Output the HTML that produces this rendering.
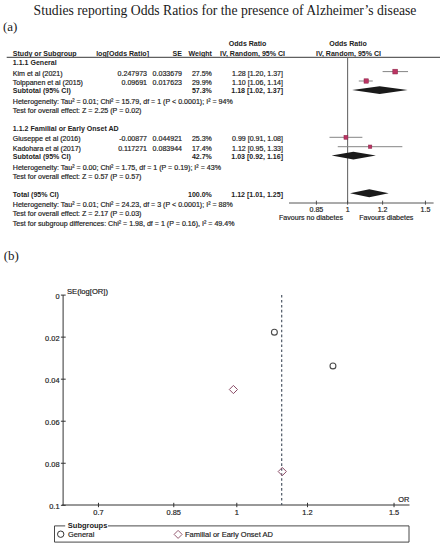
<!DOCTYPE html>
<html><head><meta charset="utf-8"><style>
html,body{margin:0;padding:0;background:#fff;}
body{width:448px;height:550px;overflow:hidden;font-family:"Liberation Sans",sans-serif;}
svg{display:block;}
</style></head><body>
<svg width="448" height="550" viewBox="0 0 448 550">
<rect width="448" height="550" fill="#fff"/>
<text x="33.6" y="14.75" font-family="'Liberation Serif', serif" font-size="13.68" fill="#1a1a1a">Studies reporting Odds Ratios for the presence of Alzheimer&#8217;s disease</text>
<text x="3" y="31.3" font-family="'Liberation Serif', serif" font-size="13" fill="#1a1a1a">(a)</text>
<text x="3.7" y="260.1" font-family="'Liberation Serif', serif" font-size="13" fill="#1a1a1a">(b)</text>
<text x="12.8" y="55.5" font-family="'Liberation Sans', sans-serif" font-size="7.05" font-weight="bold" fill="#222">Study or Subgroup</text>
<text x="149.0" y="55.5" font-family="'Liberation Sans', sans-serif" font-size="7.05" font-weight="bold" text-anchor="end" fill="#222">log[Odds Ratio]</text>
<text x="182" y="55.5" font-family="'Liberation Sans', sans-serif" font-size="7.05" font-weight="bold" text-anchor="end" fill="#222">SE</text>
<text x="211.9" y="55.5" font-family="'Liberation Sans', sans-serif" font-size="7.05" font-weight="bold" text-anchor="end" fill="#222">Weight</text>
<text x="247.6" y="46" font-family="'Liberation Sans', sans-serif" font-size="7.05" font-weight="bold" text-anchor="middle" fill="#222">Odds Ratio</text>
<text x="252.5" y="55.5" font-family="'Liberation Sans', sans-serif" font-size="7.05" font-weight="bold" text-anchor="middle" fill="#222">IV, Random, 95% CI</text>
<text x="348.0" y="46" font-family="'Liberation Sans', sans-serif" font-size="7.05" font-weight="bold" text-anchor="middle" fill="#222">Odds Ratio</text>
<text x="348.5" y="55.5" font-family="'Liberation Sans', sans-serif" font-size="7.05" font-weight="bold" text-anchor="middle" fill="#222">IV, Random, 95% CI</text>
<line x1="6.7" y1="57.4" x2="440" y2="57.4" stroke="#606060" stroke-width="1.1"/>
<text x="12.8" y="64.5" font-family="'Liberation Sans', sans-serif" font-size="7.05" font-weight="bold" fill="#222">1.1.1 General</text>
<text x="12.8" y="75.9" font-family="'Liberation Sans', sans-serif" font-size="7.05" fill="#222" stroke="#222" stroke-width="0.18">Kim et al (2021)</text>
<text x="147.0" y="75.9" font-family="'Liberation Sans', sans-serif" font-size="7.05" text-anchor="end" fill="#222" stroke="#222" stroke-width="0.18">0.247973</text>
<text x="182" y="75.9" font-family="'Liberation Sans', sans-serif" font-size="7.05" text-anchor="end" fill="#222" stroke="#222" stroke-width="0.18">0.033679</text>
<text x="211.9" y="75.9" font-family="'Liberation Sans', sans-serif" font-size="7.05" text-anchor="end" fill="#222" stroke="#222" stroke-width="0.18">27.5%</text>
<text x="283.0" y="75.9" font-family="'Liberation Sans', sans-serif" font-size="7.05" text-anchor="end" fill="#222" stroke="#222" stroke-width="0.18">1.28 [1.20, 1.37]</text>
<text x="12.8" y="85.0" font-family="'Liberation Sans', sans-serif" font-size="7.05" fill="#222" stroke="#222" stroke-width="0.18">Tolppanen et al (2015)</text>
<text x="147.0" y="85.0" font-family="'Liberation Sans', sans-serif" font-size="7.05" text-anchor="end" fill="#222" stroke="#222" stroke-width="0.18">0.09691</text>
<text x="182" y="85.0" font-family="'Liberation Sans', sans-serif" font-size="7.05" text-anchor="end" fill="#222" stroke="#222" stroke-width="0.18">0.017623</text>
<text x="211.9" y="85.0" font-family="'Liberation Sans', sans-serif" font-size="7.05" text-anchor="end" fill="#222" stroke="#222" stroke-width="0.18">29.9%</text>
<text x="283.0" y="85.0" font-family="'Liberation Sans', sans-serif" font-size="7.05" text-anchor="end" fill="#222" stroke="#222" stroke-width="0.18">1.10 [1.06, 1.14]</text>
<text x="12.8" y="93.0" font-family="'Liberation Sans', sans-serif" font-size="7.05" font-weight="bold" fill="#222">Subtotal (95% CI)</text>
<text x="211.9" y="93.0" font-family="'Liberation Sans', sans-serif" font-size="7.05" font-weight="bold" text-anchor="end" fill="#222">57.3%</text>
<text x="283.0" y="93.0" font-family="'Liberation Sans', sans-serif" font-size="7.05" font-weight="bold" text-anchor="end" fill="#222">1.18 [1.02, 1.37]</text>
<text x="12.8" y="104.1" font-family="'Liberation Sans', sans-serif" font-size="7.1" fill="#222" stroke="#222" stroke-width="0.18">Heterogeneity: Tau&#178; = 0.01; Chi&#178; = 15.79, df = 1 (P &lt; 0.0001); I&#178; = 94%</text>
<text x="12.8" y="113.0" font-family="'Liberation Sans', sans-serif" font-size="7.1" fill="#222" stroke="#222" stroke-width="0.18">Test for overall effect: Z = 2.25 (P = 0.02)</text>
<text x="12.8" y="130.6" font-family="'Liberation Sans', sans-serif" font-size="7.05" font-weight="bold" fill="#222">1.1.2 Familial or Early Onset AD</text>
<text x="12.8" y="141.3" font-family="'Liberation Sans', sans-serif" font-size="7.05" fill="#222" stroke="#222" stroke-width="0.18">Giuseppe et al (2016)</text>
<text x="147.0" y="141.3" font-family="'Liberation Sans', sans-serif" font-size="7.05" text-anchor="end" fill="#222" stroke="#222" stroke-width="0.18">-0.00877</text>
<text x="182" y="141.3" font-family="'Liberation Sans', sans-serif" font-size="7.05" text-anchor="end" fill="#222" stroke="#222" stroke-width="0.18">0.044921</text>
<text x="211.9" y="141.3" font-family="'Liberation Sans', sans-serif" font-size="7.05" text-anchor="end" fill="#222" stroke="#222" stroke-width="0.18">25.3%</text>
<text x="283.0" y="141.3" font-family="'Liberation Sans', sans-serif" font-size="7.05" text-anchor="end" fill="#222" stroke="#222" stroke-width="0.18">0.99 [0.91, 1.08]</text>
<text x="12.8" y="150.8" font-family="'Liberation Sans', sans-serif" font-size="7.05" fill="#222" stroke="#222" stroke-width="0.18">Kadohara et al (2017)</text>
<text x="147.0" y="150.8" font-family="'Liberation Sans', sans-serif" font-size="7.05" text-anchor="end" fill="#222" stroke="#222" stroke-width="0.18">0.117271</text>
<text x="182" y="150.8" font-family="'Liberation Sans', sans-serif" font-size="7.05" text-anchor="end" fill="#222" stroke="#222" stroke-width="0.18">0.083944</text>
<text x="211.9" y="150.8" font-family="'Liberation Sans', sans-serif" font-size="7.05" text-anchor="end" fill="#222" stroke="#222" stroke-width="0.18">17.4%</text>
<text x="283.0" y="150.8" font-family="'Liberation Sans', sans-serif" font-size="7.05" text-anchor="end" fill="#222" stroke="#222" stroke-width="0.18">1.12 [0.95, 1.33]</text>
<text x="12.8" y="159.2" font-family="'Liberation Sans', sans-serif" font-size="7.05" font-weight="bold" fill="#222">Subtotal (95% CI)</text>
<text x="211.9" y="159.2" font-family="'Liberation Sans', sans-serif" font-size="7.05" font-weight="bold" text-anchor="end" fill="#222">42.7%</text>
<text x="283.0" y="159.2" font-family="'Liberation Sans', sans-serif" font-size="7.05" font-weight="bold" text-anchor="end" fill="#222">1.03 [0.92, 1.16]</text>
<text x="12.8" y="170.0" font-family="'Liberation Sans', sans-serif" font-size="7.1" fill="#222" stroke="#222" stroke-width="0.18">Heterogeneity: Tau&#178; = 0.00; Chi&#178; = 1.75, df = 1 (P = 0.19); I&#178; = 43%</text>
<text x="12.8" y="178.6" font-family="'Liberation Sans', sans-serif" font-size="7.1" fill="#222" stroke="#222" stroke-width="0.18">Test for overall effect: Z = 0.57 (P = 0.57)</text>
<text x="12.8" y="196.6" font-family="'Liberation Sans', sans-serif" font-size="7.05" font-weight="bold" fill="#222">Total (95% CI)</text>
<text x="211.9" y="196.6" font-family="'Liberation Sans', sans-serif" font-size="7.05" font-weight="bold" text-anchor="end" fill="#222">100.0%</text>
<text x="283.0" y="196.6" font-family="'Liberation Sans', sans-serif" font-size="7.05" font-weight="bold" text-anchor="end" fill="#222">1.12 [1.01, 1.25]</text>
<text x="12.8" y="207.1" font-family="'Liberation Sans', sans-serif" font-size="7.1" fill="#222" stroke="#222" stroke-width="0.18">Heterogeneity: Tau&#178; = 0.01; Chi&#178; = 24.23, df = 3 (P &lt; 0.0001); I&#178; = 88%</text>
<text x="12.8" y="216.1" font-family="'Liberation Sans', sans-serif" font-size="7.1" fill="#222" stroke="#222" stroke-width="0.18">Test for overall effect: Z = 2.17 (P = 0.03)</text>
<text x="12.8" y="225.8" font-family="'Liberation Sans', sans-serif" font-size="7.1" fill="#222" stroke="#222" stroke-width="0.18">Test for subgroup differences: Chi&#178; = 1.98, df = 1 (P = 0.16), I&#178; = 49.4%</text>
<line x1="347.6" y1="57.4" x2="347.6" y2="203" stroke="#6a6a6a" stroke-width="1.1"/>
<line x1="289" y1="203.0" x2="433.6" y2="203.0" stroke="#444" stroke-width="0.9"/>
<line x1="316.39636553642725" y1="200.7" x2="316.39636553642725" y2="204.7" stroke="#444" stroke-width="0.9"/>
<text x="316.39636553642725" y="211.8" font-family="'Liberation Sans', sans-serif" font-size="7.05" text-anchor="middle" fill="#222" stroke="#222" stroke-width="0.18">0.85</text>
<line x1="347.6" y1="200.7" x2="347.6" y2="204.7" stroke="#444" stroke-width="0.9"/>
<text x="347.6" y="211.8" font-family="'Liberation Sans', sans-serif" font-size="7.05" text-anchor="middle" fill="#222" stroke="#222" stroke-width="0.18">1</text>
<line x1="382.6057389044393" y1="200.7" x2="382.6057389044393" y2="204.7" stroke="#444" stroke-width="0.9"/>
<text x="382.6057389044393" y="211.8" font-family="'Liberation Sans', sans-serif" font-size="7.05" text-anchor="middle" fill="#222" stroke="#222" stroke-width="0.18">1.2</text>
<line x1="425.44930075676757" y1="200.7" x2="425.44930075676757" y2="204.7" stroke="#444" stroke-width="0.9"/>
<text x="425.44930075676757" y="211.8" font-family="'Liberation Sans', sans-serif" font-size="7.05" text-anchor="middle" fill="#222" stroke="#222" stroke-width="0.18">1.5</text>
<text x="311" y="219.8" font-family="'Liberation Sans', sans-serif" font-size="7.05" text-anchor="middle" fill="#222" stroke="#222" stroke-width="0.18">Favours no diabetes</text>
<text x="386.3" y="219.8" font-family="'Liberation Sans', sans-serif" font-size="7.05" text-anchor="middle" fill="#222" stroke="#222" stroke-width="0.18">Favours diabetes</text>
<line x1="382.6057389044393" y1="71.6" x2="408.04366204928647" y2="71.6" stroke="#858585" stroke-width="1.0"/>
<rect x="392.81" y="69.20" width="4.8" height="4.8" fill="#bb3463" stroke="#8a2447" stroke-width="0.5"/>
<line x1="358.78763035980336" y1="81.0" x2="372.7574263820296" y2="81.0" stroke="#858585" stroke-width="1.0"/>
<rect x="364.01" y="78.80" width="4.4" height="4.4" fill="#bb3463" stroke="#8a2447" stroke-width="0.5"/>
<line x1="329.4923495415217" y1="137.3" x2="362.3765198981367" y2="137.3" stroke="#858585" stroke-width="1.0"/>
<rect x="343.97" y="135.35" width="3.9" height="3.9" fill="#bb3463" stroke="#8a2447" stroke-width="0.5"/>
<line x1="337.75168747759034" y1="146.7" x2="402.3543569088632" y2="146.7" stroke="#858585" stroke-width="1.0"/>
<rect x="368.42" y="145.00" width="3.4" height="3.4" fill="#bb3463" stroke="#8a2447" stroke-width="0.5"/>
<polygon points="352.10,90.1 379.60,86.19999999999999 407.60,90.1 379.60,94.0" fill="#1a1a1a"/>
<polygon points="331.60,155.6 353.40,151.7 375.90,155.6 353.40,159.5" fill="#1a1a1a"/>
<polygon points="350.00,193.2 369.30,189.2 388.70,193.2 369.30,197.2" fill="#1a1a1a"/>
<line x1="63.1" y1="295.1" x2="63.1" y2="505.0" stroke="#333" stroke-width="1"/>
<line x1="62.1" y1="505.0" x2="409.5" y2="505.0" stroke="#333" stroke-width="1"/>
<line x1="60.9" y1="295.1" x2="65.7" y2="295.1" stroke="#333" stroke-width="1"/>
<text x="59.5" y="298.6" font-family="'Liberation Sans', sans-serif" font-size="7.4" text-anchor="end" fill="#222" stroke="#222" stroke-width="0.18">0</text>
<line x1="60.9" y1="337.14000000000004" x2="65.7" y2="337.14000000000004" stroke="#333" stroke-width="1"/>
<text x="59.5" y="340.64000000000004" font-family="'Liberation Sans', sans-serif" font-size="7.4" text-anchor="end" fill="#222" stroke="#222" stroke-width="0.18">0.02</text>
<line x1="60.9" y1="379.18" x2="65.7" y2="379.18" stroke="#333" stroke-width="1"/>
<text x="59.5" y="382.68" font-family="'Liberation Sans', sans-serif" font-size="7.4" text-anchor="end" fill="#222" stroke="#222" stroke-width="0.18">0.04</text>
<line x1="60.9" y1="421.22" x2="65.7" y2="421.22" stroke="#333" stroke-width="1"/>
<text x="59.5" y="424.72" font-family="'Liberation Sans', sans-serif" font-size="7.4" text-anchor="end" fill="#222" stroke="#222" stroke-width="0.18">0.06</text>
<line x1="60.9" y1="463.26" x2="65.7" y2="463.26" stroke="#333" stroke-width="1"/>
<text x="59.5" y="466.76" font-family="'Liberation Sans', sans-serif" font-size="7.4" text-anchor="end" fill="#222" stroke="#222" stroke-width="0.18">0.08</text>
<line x1="60.9" y1="505.30000000000007" x2="65.7" y2="505.30000000000007" stroke="#333" stroke-width="1"/>
<text x="59.5" y="508.80000000000007" font-family="'Liberation Sans', sans-serif" font-size="7.4" text-anchor="end" fill="#222" stroke="#222" stroke-width="0.18">0.1</text>
<text x="67" y="293.9" font-family="'Liberation Sans', sans-serif" font-size="7.6" fill="#222" stroke="#222" stroke-width="0.18">SE(log[OR])</text>
<line x1="98.48145674055957" y1="502.8" x2="98.48145674055957" y2="507.2" stroke="#333" stroke-width="1"/>
<text x="98.48145674055957" y="514.5" font-family="'Liberation Sans', sans-serif" font-size="7.4" text-anchor="middle" fill="#222" stroke="#222" stroke-width="0.18">0.7</text>
<line x1="173.7751591407629" y1="502.8" x2="173.7751591407629" y2="507.2" stroke="#333" stroke-width="1"/>
<text x="173.7751591407629" y="514.5" font-family="'Liberation Sans', sans-serif" font-size="7.4" text-anchor="middle" fill="#222" stroke="#222" stroke-width="0.18">0.85</text>
<line x1="236.8" y1="502.8" x2="236.8" y2="507.2" stroke="#333" stroke-width="1"/>
<text x="236.8" y="514.5" font-family="'Liberation Sans', sans-serif" font-size="7.4" text-anchor="middle" fill="#222" stroke="#222" stroke-width="0.18">1</text>
<line x1="307.5042997246956" y1="502.8" x2="307.5042997246956" y2="507.2" stroke="#333" stroke-width="1"/>
<text x="307.5042997246956" y="514.5" font-family="'Liberation Sans', sans-serif" font-size="7.4" text-anchor="middle" fill="#222" stroke="#222" stroke-width="0.18">1.2</text>
<line x1="394.03936892434615" y1="502.8" x2="394.03936892434615" y2="507.2" stroke="#333" stroke-width="1"/>
<text x="394.03936892434615" y="514.5" font-family="'Liberation Sans', sans-serif" font-size="7.4" text-anchor="middle" fill="#222" stroke="#222" stroke-width="0.18">1.5</text>
<text x="398.3" y="501.6" font-family="'Liberation Sans', sans-serif" font-size="7.4" fill="#222" stroke="#222" stroke-width="0.18">OR</text>
<line x1="281.7" y1="295" x2="281.7" y2="505" stroke="#45505e" stroke-width="1.15" stroke-dasharray="2.6,2.35"/>
<circle cx="332.96" cy="365.89" r="2.95" fill="none" stroke="#4a4a4a" stroke-width="1.1"/>
<circle cx="274.38" cy="332.14" r="2.95" fill="none" stroke="#4a4a4a" stroke-width="1.1"/>
<polygon points="229.30,389.52 233.40,385.42 237.50,389.52 233.40,393.62" fill="none" stroke="#8a4a66" stroke-width="1"/>
<polygon points="278.18,471.55 282.28,467.45 286.38,471.55 282.28,475.65" fill="none" stroke="#8a4a66" stroke-width="1"/>
<path d="M65.2,525.9 H54.5 V542.1 H409 V525.9 H108" fill="none" stroke="#333" stroke-width="0.9"/>
<text x="67.8" y="528.2" font-family="'Liberation Sans', sans-serif" font-size="7.5" font-weight="bold" fill="#222">Subgroups</text>
<circle cx="60.7" cy="534.2" r="3.2" fill="none" stroke="#333" stroke-width="1"/>
<text x="68" y="537.2" font-family="'Liberation Sans', sans-serif" font-size="7.4" fill="#222" stroke="#222" stroke-width="0.18">General</text>
<polygon points="174.10,534.40 178.10,530.40 182.10,534.40 178.10,538.40" fill="none" stroke="#8a4a62" stroke-width="0.9"/>
<text x="185" y="537.2" font-family="'Liberation Sans', sans-serif" font-size="7.5" fill="#222" stroke="#222" stroke-width="0.18">Familial or Early Onset AD</text>
</svg>
</body></html>
